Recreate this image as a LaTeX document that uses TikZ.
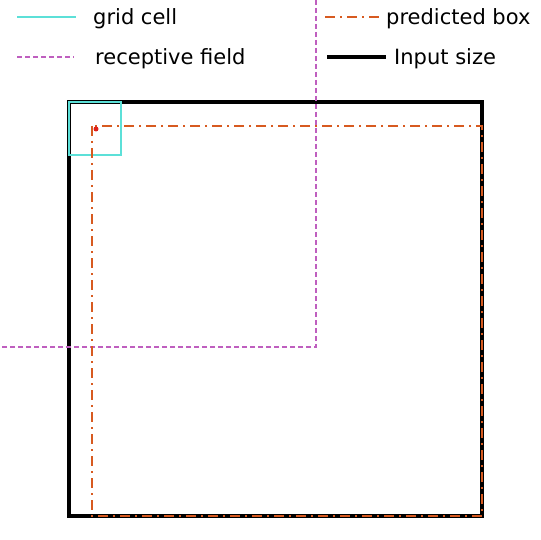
\documentclass[tikz,border=0pt]{standalone}
\usepackage{fontspec}
\setmainfont{DejaVu Sans}
\usepackage{tikz}
\usetikzlibrary{positioning}
\definecolor{gridcyan}{HTML}{5CE0D8}
\definecolor{fieldpink}{HTML}{BF5FBF}
\definecolor{boxorange}{HTML}{D75A20}
\definecolor{centrered}{HTML}{E0201A}

\begin{document}
\begin{tikzpicture}[x=1pt,y=-1pt, font=\fontsize{21}{25}\selectfont,
  gridline/.style={gridcyan, line width=1.2pt},
  fieldline/.style={fieldpink, line width=1.2pt, dash pattern=on 5pt off 3pt},
  predline/.style={boxorange, line width=2.3pt, dash pattern=on 10pt off 5pt on 2pt off 5pt},
  sizeline/.style={black, line width=4.5pt},
  legtext/.style={anchor=base west, inner sep=0pt}]
\useasboundingbox (0,0) rectangle (540,540);
% corners of the boxes
\coordinate (in-nw) at (69,102);
\coordinate (in-se) at (482,516);
\coordinate (cell-se) at (121,155);
\coordinate (pred-nw) at (92,126);
\coordinate (rf-top) at (316,0);
\coordinate (rf-se) at (316,347);
\coordinate (rf-left) at (0,347);
% boxes
\draw[sizeline, line join=miter] (in-nw) rectangle (in-se);
\draw[fieldline] (rf-top) -- (rf-se) -- (rf-left);
\draw[gridline] (in-nw) rectangle (cell-se);
\draw[predline] (pred-nw) rectangle (in-se);
\fill[centrered] (96,129) circle (2.5pt);
% legend
\foreach \name/\style/\xa/\xb/\ya/\xt/\label in {
    cell/gridline/17/76/17/93/grid cell,
    field/fieldline/17/74/57/95/receptive field,
    pred/predline/325/383/17/386/predicted box,
    size/sizeline/327/386/57/394/Input size}{
  \coordinate (\name-a) at (\xa,\ya);
  \coordinate (\name-b) at (\xb,\ya);
  \draw[\style] (\name-a) -- (\name-b);
  \node[legtext] (\name-text) at (\xt,\ya+7.5) {\label};
}
\end{tikzpicture}
\end{document}
